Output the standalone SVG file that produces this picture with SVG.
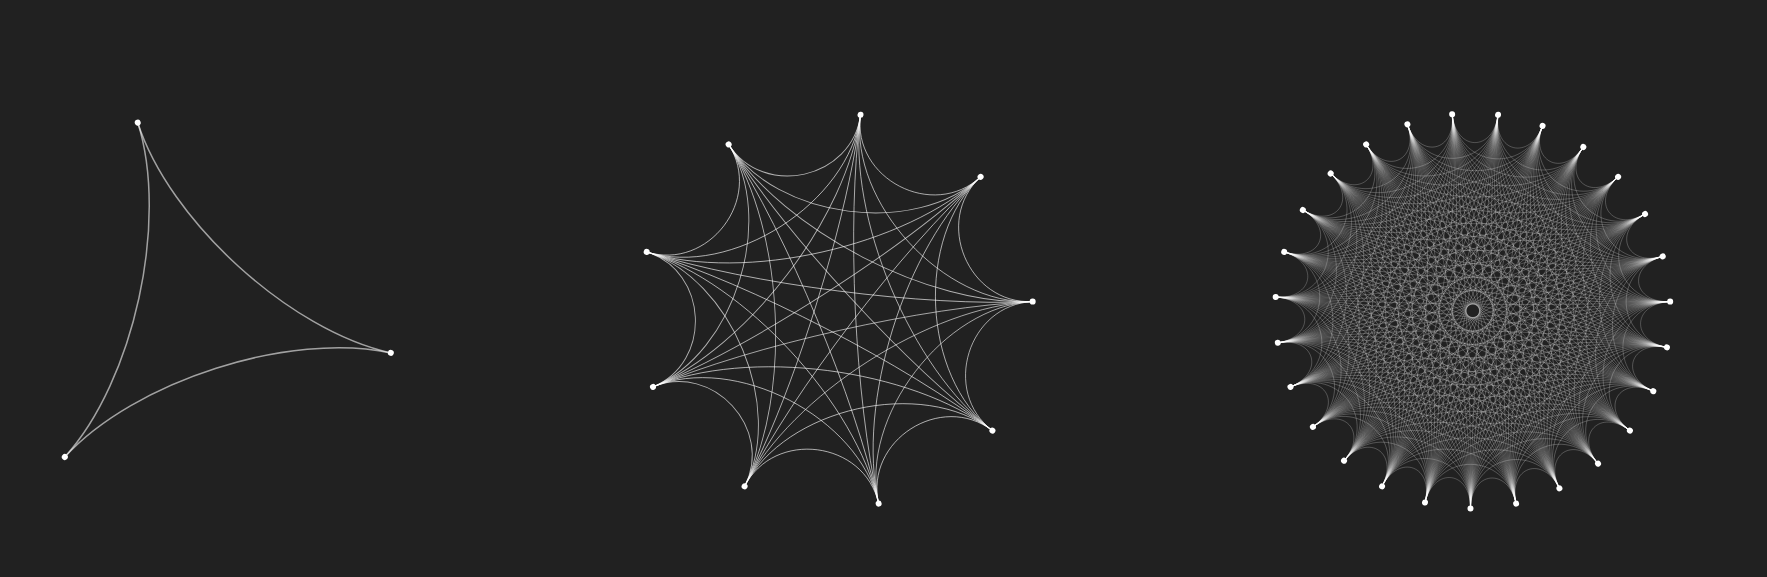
<svg xmlns="http://www.w3.org/2000/svg" width="1767" height="577" viewBox="0 0 1767 577">
<style>
.bg{fill:#212121}
.node{fill:#ffffff}
.e3{fill:none;stroke:#ffffff;stroke-opacity:0.58;stroke-width:1.5}
.e9{fill:none;stroke:#ffffff;stroke-opacity:0.65;stroke-width:0.9}
.e27{fill:none;stroke:#ffffff;stroke-opacity:0.36;stroke-width:0.6}
</style>
<defs>
<circle id="dot" cx="197.6" cy="0" r="3"/>
<g id="fan3">
<path d="M197.6 0C94.77 0 -47.39 82.07 -98.8 171.13"/>
</g>
<g id="fan9">
<path d="M197.6 0C132.98 0 101.87 85.48 151.37 127.02"/>
<path d="M197.6 0C109.01 0 18.93 107.35 34.31 194.6"/>
<path d="M197.6 0C94.77 0 -47.39 82.07 -98.8 171.13"/>
<path d="M197.6 0C87.94 0 -82.64 30.08 -185.68 67.58"/>
</g>
<g id="fan27">
<path d="M197.6 0C159.95 0 155.64 36.89 192.27 45.57"/>
<path d="M197.6 0C144.54 0 129.17 64.87 176.58 88.68"/>
<path d="M197.6 0C132.98 0 101.87 85.48 151.37 127.02"/>
<path d="M197.6 0C123.57 0 73.79 99.12 118 158.5"/>
<path d="M197.6 0C115.69 0 45.82 106.23 78.27 181.44"/>
<path d="M197.6 0C109.01 0 18.93 107.35 34.31 194.6"/>
<path d="M197.6 0C103.36 0 -6.01 103.19 -11.49 197.27"/>
<path d="M197.6 0C98.64 0 -28.29 94.5 -56.67 189.3"/>
<path d="M197.6 0C94.77 0 -47.39 82.07 -98.8 171.13"/>
<path d="M197.6 0C91.71 0 -62.94 66.71 -135.6 143.73"/>
<path d="M197.6 0C89.45 0 -74.73 49.15 -165.09 108.58"/>
<path d="M197.6 0C87.94 0 -82.64 30.08 -185.68 67.58"/>
<path d="M197.6 0C87.19 0 -86.6 10.12 -196.26 22.94"/>
</g>
</defs>
<rect class="bg" x="0" y="0" width="1767" height="577"/>
<g id="connectors">
<g id="edges-k3" class="e3" transform="translate(197.8 310.8) rotate(12.3)">
<use href="#fan3"/>
<use href="#fan3" transform="rotate(120)"/>
<use href="#fan3" transform="rotate(240)"/>
</g>
<g id="edges-k9" class="e9" transform="translate(835.3 310.8) rotate(37.33)">
<use href="#fan9"/>
<use href="#fan9" transform="rotate(40)"/>
<use href="#fan9" transform="rotate(80)"/>
<use href="#fan9" transform="rotate(120)"/>
<use href="#fan9" transform="rotate(160)"/>
<use href="#fan9" transform="rotate(200)"/>
<use href="#fan9" transform="rotate(240)"/>
<use href="#fan9" transform="rotate(280)"/>
<use href="#fan9" transform="rotate(320)"/>
</g>
<g id="edges-k27" class="e27" transform="translate(1472.8 310.8) rotate(10.67)">
<use href="#fan27"/>
<use href="#fan27" transform="rotate(13.3333)"/>
<use href="#fan27" transform="rotate(26.6667)"/>
<use href="#fan27" transform="rotate(40)"/>
<use href="#fan27" transform="rotate(53.3333)"/>
<use href="#fan27" transform="rotate(66.6667)"/>
<use href="#fan27" transform="rotate(80)"/>
<use href="#fan27" transform="rotate(93.3333)"/>
<use href="#fan27" transform="rotate(106.6667)"/>
<use href="#fan27" transform="rotate(120)"/>
<use href="#fan27" transform="rotate(133.3333)"/>
<use href="#fan27" transform="rotate(146.6667)"/>
<use href="#fan27" transform="rotate(160)"/>
<use href="#fan27" transform="rotate(173.3333)"/>
<use href="#fan27" transform="rotate(186.6667)"/>
<use href="#fan27" transform="rotate(200)"/>
<use href="#fan27" transform="rotate(213.3333)"/>
<use href="#fan27" transform="rotate(226.6667)"/>
<use href="#fan27" transform="rotate(240)"/>
<use href="#fan27" transform="rotate(253.3333)"/>
<use href="#fan27" transform="rotate(266.6667)"/>
<use href="#fan27" transform="rotate(280)"/>
<use href="#fan27" transform="rotate(293.3333)"/>
<use href="#fan27" transform="rotate(306.6667)"/>
<use href="#fan27" transform="rotate(320)"/>
<use href="#fan27" transform="rotate(333.3333)"/>
<use href="#fan27" transform="rotate(346.6667)"/>
</g>
</g>
<g id="nodes-k3" class="node" transform="translate(197.8 310.8) rotate(12.3)">
<g id="k3-n0"><use href="#dot"/></g>
<g id="k3-n1" transform="rotate(120)"><use href="#dot"/></g>
<g id="k3-n2" transform="rotate(240)"><use href="#dot"/></g>
</g>
<g id="nodes-k9" class="node" transform="translate(835.3 310.8) rotate(37.33)">
<g id="k9-n0"><use href="#dot"/></g>
<g id="k9-n1" transform="rotate(40)"><use href="#dot"/></g>
<g id="k9-n2" transform="rotate(80)"><use href="#dot"/></g>
<g id="k9-n3" transform="rotate(120)"><use href="#dot"/></g>
<g id="k9-n4" transform="rotate(160)"><use href="#dot"/></g>
<g id="k9-n5" transform="rotate(200)"><use href="#dot"/></g>
<g id="k9-n6" transform="rotate(240)"><use href="#dot"/></g>
<g id="k9-n7" transform="rotate(280)"><use href="#dot"/></g>
<g id="k9-n8" transform="rotate(320)"><use href="#dot"/></g>
</g>
<g id="nodes-k27" class="node" transform="translate(1472.8 310.8) rotate(10.67)">
<g id="k27-n0"><use href="#dot"/></g>
<g id="k27-n1" transform="rotate(13.3333)"><use href="#dot"/></g>
<g id="k27-n2" transform="rotate(26.6667)"><use href="#dot"/></g>
<g id="k27-n3" transform="rotate(40)"><use href="#dot"/></g>
<g id="k27-n4" transform="rotate(53.3333)"><use href="#dot"/></g>
<g id="k27-n5" transform="rotate(66.6667)"><use href="#dot"/></g>
<g id="k27-n6" transform="rotate(80)"><use href="#dot"/></g>
<g id="k27-n7" transform="rotate(93.3333)"><use href="#dot"/></g>
<g id="k27-n8" transform="rotate(106.6667)"><use href="#dot"/></g>
<g id="k27-n9" transform="rotate(120)"><use href="#dot"/></g>
<g id="k27-n10" transform="rotate(133.3333)"><use href="#dot"/></g>
<g id="k27-n11" transform="rotate(146.6667)"><use href="#dot"/></g>
<g id="k27-n12" transform="rotate(160)"><use href="#dot"/></g>
<g id="k27-n13" transform="rotate(173.3333)"><use href="#dot"/></g>
<g id="k27-n14" transform="rotate(186.6667)"><use href="#dot"/></g>
<g id="k27-n15" transform="rotate(200)"><use href="#dot"/></g>
<g id="k27-n16" transform="rotate(213.3333)"><use href="#dot"/></g>
<g id="k27-n17" transform="rotate(226.6667)"><use href="#dot"/></g>
<g id="k27-n18" transform="rotate(240)"><use href="#dot"/></g>
<g id="k27-n19" transform="rotate(253.3333)"><use href="#dot"/></g>
<g id="k27-n20" transform="rotate(266.6667)"><use href="#dot"/></g>
<g id="k27-n21" transform="rotate(280)"><use href="#dot"/></g>
<g id="k27-n22" transform="rotate(293.3333)"><use href="#dot"/></g>
<g id="k27-n23" transform="rotate(306.6667)"><use href="#dot"/></g>
<g id="k27-n24" transform="rotate(320)"><use href="#dot"/></g>
<g id="k27-n25" transform="rotate(333.3333)"><use href="#dot"/></g>
<g id="k27-n26" transform="rotate(346.6667)"><use href="#dot"/></g>
</g>
</svg>
